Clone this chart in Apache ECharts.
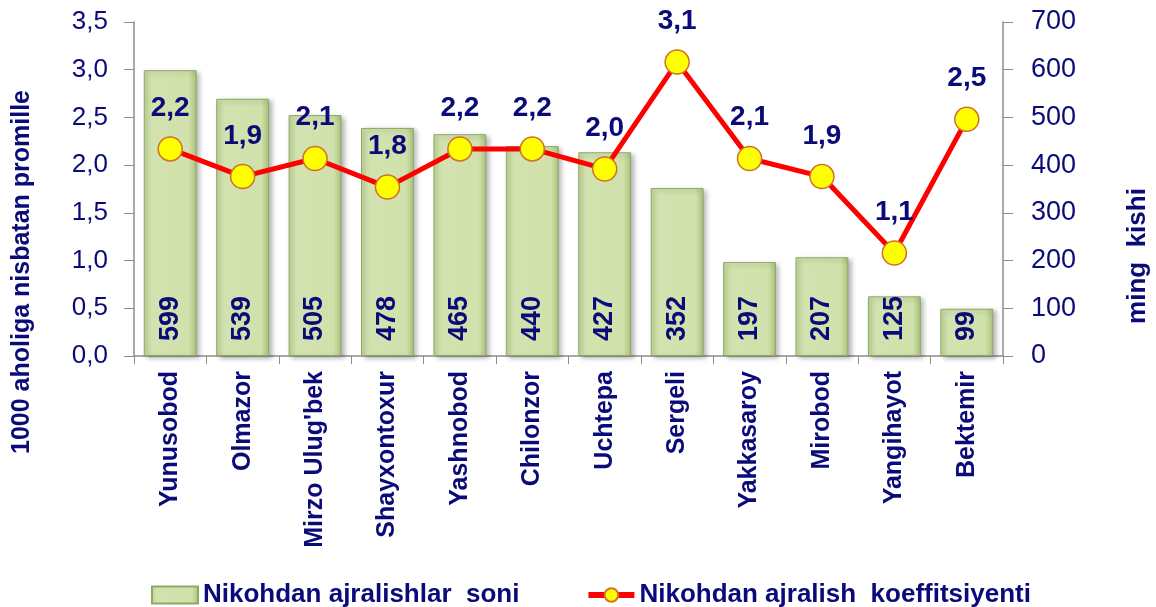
<!DOCTYPE html>
<html><head><meta charset="utf-8">
<script src="https://cdn.jsdelivr.net/npm/echarts@6/dist/echarts.min.js"></script>
<style>html,body{margin:0;padding:0;background:#fff}#c{width:1156px;height:607px}</style>
</head><body><div id="c"></div>
<script>
const categories = ["Yunusobod","Olmazor","Mirzo Ulug'bek","Shayxontoxur","Yashnobod","Chilonzor","Uchtepa","Sergeli","Yakkasaroy","Mirobod","Yangihayot","Bektemir"];
const divorceCounts = [599,539,505,478,465,440,427,352,197,207,125,99];
const divorceRate = [2.17,1.88,2.07,1.77,2.17,2.17,1.96,3.08,2.07,1.88,1.08,2.48];
const leftTicks = [0,0.5,1,1.5,2,2.5,3,3.5];
const rightTicks = [0,100,200,300,400,500,600,700];

const navy = '#0a0a78';
const font = 'Liberation Sans, Arial, sans-serif';
const fmt = v => v.toFixed(1).replace('.', ',');

const chart = echarts.init(document.getElementById('c'));
chart.setOption({
  animation: false,
  textStyle: {fontFamily: font},
  grid: {left: 134, right: 153, top: 22, bottom: 251},
  legend: {
    top: 577, left: 146, itemGap: 66, itemWidth: 46, itemHeight: 17,
    textStyle: {color: navy, fontSize: 26, fontWeight: 'bold', fontFamily: font},
    data: [
      {name: 'Nikohdan ajralishlar  soni', icon: 'rect'},
      {name: 'Nikohdan ajralish  koeffitsiyenti', lineStyle: {width: 6, color: '#ff0000'}}
    ]
  },
  xAxis: {
    type: 'category', data: categories,
    axisLine: {lineStyle: {color: '#8c8c8c', width: 1.5}},
    axisTick: {show: true, length: 8, lineStyle: {color: '#8c8c8c'}},
    axisLabel: {rotate: 90, color: navy, fontSize: 25, fontWeight: 'bold', margin: 15, interval: 0}
  },
  yAxis: [
    {
      type: 'value', min: 0, max: 3.5, interval: 0.5, position: 'left',
      splitLine: {show: false},
      axisLine: {show: true, lineStyle: {color: '#8c8c8c', width: 1.5}},
      axisTick: {show: true, length: 10, lineStyle: {color: '#8c8c8c'}},
      axisLabel: {color: navy, fontSize: 26, margin: 26, formatter: v => fmt(v)}
    },
    {
      type: 'value', min: 0, max: 700, interval: 100, position: 'right',
      splitLine: {show: false},
      axisLine: {show: true, lineStyle: {color: '#8c8c8c', width: 1.5}},
      axisTick: {show: true, length: 10, lineStyle: {color: '#8c8c8c'}},
      axisLabel: {color: navy, fontSize: 27, margin: 28}
    }
  ],
  series: [
    {
      name: 'Nikohdan ajralishlar  soni', type: 'bar', yAxisIndex: 1,
      data: divorceCounts, barCategoryGap: '27%',
      itemStyle: {
        color: new echarts.graphic.LinearGradient(0,0,1,0,[
          {offset:0,color:'#bcd391'},{offset:0.12,color:'#d3e3b0'},
          {offset:0.85,color:'#d0e1ab'},{offset:1,color:'#a9c27c'}]),
        borderColor: '#8fa866', borderWidth: 1,
        shadowColor: 'rgba(0,0,0,0.3)', shadowBlur: 5, shadowOffsetX: 3, shadowOffsetY: 2
      },
      label: {
        show: true, position: 'insideBottom', rotate: 90, align: 'left', verticalAlign: 'middle',
        distance: 15, color: navy, fontSize: 27, fontWeight: 'bold', fontFamily: font
      }
    },
    {
      name: 'Nikohdan ajralish  koeffitsiyenti', type: 'line', yAxisIndex: 0,
      data: divorceRate, symbol: 'circle', symbolSize: 24,
      lineStyle: {color: '#ff0000', width: 5},
      itemStyle: {color: '#ffff00', borderColor: '#d0702a', borderWidth: 1.5},
      label: {
        show: true, position: 'top', distance: 14, color: navy, fontSize: 28, fontWeight: 'bold',
        fontFamily: font, formatter: p => fmt(p.value)
      },
      z: 5
    }
  ],
  graphic: [
    {type: 'text', x: 22, y: 272, rotation: Math.PI/2,
     style: {text: '1000 aholiga nisbatan promille', fill: navy, font: 'bold 25px ' + font, textAlign: 'center', textVerticalAlign: 'middle'}},
    {type: 'text', x: 1138, y: 256, rotation: Math.PI/2,
     style: {text: 'ming  kishi', fill: navy, font: 'bold 26px ' + font, textAlign: 'center', textVerticalAlign: 'middle'}}
  ]
});
</script></body></html>
